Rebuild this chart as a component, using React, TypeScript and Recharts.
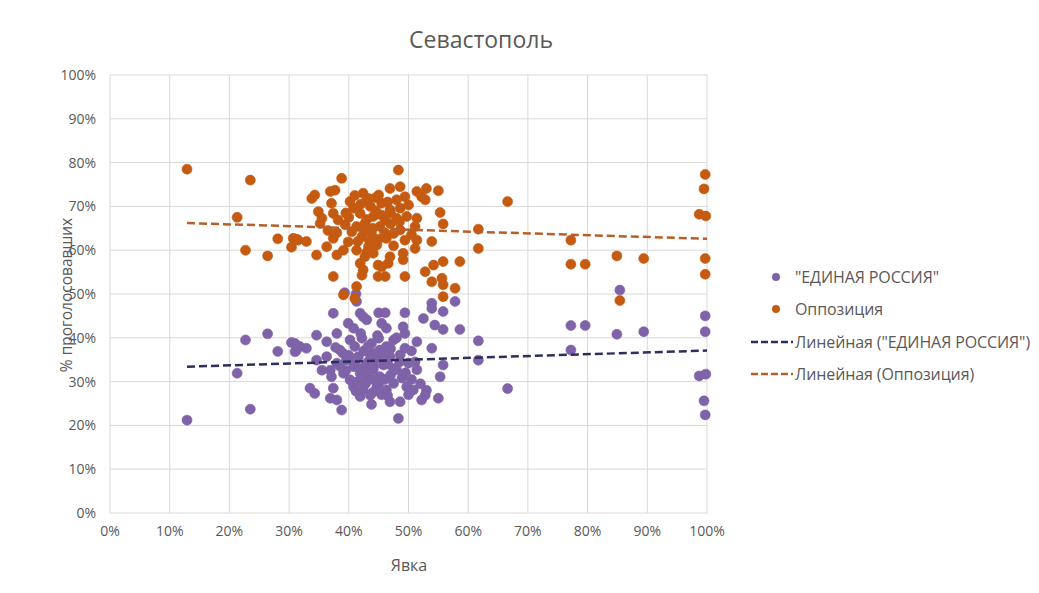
import React from "react";
import { ScatterChart, Scatter, XAxis, YAxis, CartesianGrid } from "recharts";

// [turnout %, vote share %]
const erPoints: number[][] = [
  [12.9, 21.2], [23.5, 23.7], [21.3, 31.9], [22.7, 39.5], [26.4, 40.9], [28.1, 36.9], [30.4, 38.9], [31.2, 37.1],
  [31.0, 38.7], [31.8, 38.0], [32.9, 37.6], [31.0, 36.8], [34.6, 40.6], [36.3, 39.1], [34.6, 34.9], [35.5, 32.6],
  [33.5, 28.5], [34.3, 27.3], [36.9, 26.2], [38.0, 25.8], [38.8, 23.5], [46.9, 25.4], [48.6, 25.4], [48.3, 21.6],
  [55.0, 26.2], [52.8, 26.9], [52.2, 25.8], [55.3, 31.1], [55.8, 33.8], [53.9, 37.6], [51.4, 39.1], [51.1, 34.5],
  [51.4, 32.7], [49.1, 42.5], [49.4, 41.0], [45.5, 43.3], [46.3, 42.2], [39.9, 43.3], [40.8, 42.2], [38.0, 41.0],
  [43.0, 44.1], [41.3, 48.3], [39.3, 50.3], [41.2, 50.0], [37.4, 45.6], [41.9, 45.6], [42.4, 44.8], [45.0, 45.7],
  [46.1, 45.7], [49.4, 45.7], [53.9, 47.9], [53.9, 46.7], [55.8, 46.0], [57.8, 48.3], [52.5, 44.4], [54.4, 42.9],
  [55.8, 41.9], [58.6, 41.9], [61.7, 39.3], [61.7, 34.9],
  [38.5, 37.2], [39.6, 34.9], [40.8, 33.4], [41.9, 31.9], [43.0, 30.4], [42.4, 28.1], [43.6, 26.9], [44.7, 28.8],
  [45.2, 31.1], [44.1, 32.7], [43.0, 34.2], [41.6, 35.7], [43.3, 36.8], [44.7, 35.3], [45.8, 33.8], [46.9, 35.7],
  [46.3, 38.0], [47.5, 39.5], [48.0, 32.7], [48.9, 30.8], [49.7, 28.8], [50.8, 28.1], [47.5, 29.6], [46.3, 28.1],
  [40.2, 30.4], [39.1, 31.9], [38.0, 34.2], [37.1, 31.1], [37.4, 28.5], [40.8, 28.8], [41.9, 26.6], [45.0, 39.9],
  [43.8, 38.7], [42.2, 39.9], [41.0, 38.0], [40.2, 39.5], [45.2, 37.2], [48.6, 36.1], [50.0, 34.2], [49.4, 37.6],
  [36.3, 35.7], [36.9, 32.6],
  [40.0, 36.0], [41.0, 34.5], [42.0, 33.0], [43.0, 32.0], [44.0, 30.5], [45.0, 29.5], [46.0, 30.5], [47.0, 31.5],
  [43.5, 35.0], [42.5, 37.0], [44.5, 36.5], [46.5, 34.0], [47.5, 33.0], [48.5, 34.5], [49.5, 32.0], [50.5, 30.5],
  [44.0, 27.5], [45.5, 27.0], [42.8, 29.5], [41.5, 30.0], [39.5, 32.5], [38.5, 33.5], [43.2, 38.0], [44.8, 40.5],
  [42.0, 41.0], [47.0, 37.5], [48.0, 40.0], [50.5, 37.0], [39.0, 36.5], [37.8, 37.8], [44.2, 33.5], [45.8, 36.0],
  [41.2, 27.8], [43.8, 24.8], [50.0, 27.0], [52.0, 29.5], [53.0, 28.0], [46.5, 26.8],
  [66.6, 28.4], [77.2, 42.8], [79.6, 42.8], [84.9, 40.8], [89.4, 41.4], [77.2, 37.2], [85.4, 50.9], [99.7, 45.0],
  [99.7, 41.4], [98.7, 31.3], [99.8, 31.7], [99.5, 25.6], [99.7, 22.4],
];

const oppPoints: number[][] = [
  [12.9, 78.5], [23.5, 76.0], [21.3, 67.5], [28.1, 62.6], [22.7, 60.0], [26.4, 58.7], [30.4, 60.7], [31.3, 62.5],
  [48.3, 78.3], [38.8, 76.4], [33.8, 71.8], [34.3, 72.6], [36.9, 73.4], [37.7, 73.7], [46.9, 74.1], [48.6, 74.5],
  [53.0, 74.1], [55.0, 73.6], [51.4, 73.4], [52.2, 72.2], [52.8, 71.5], [42.4, 73.0], [43.0, 71.5], [37.1, 70.7],
  [40.2, 71.1], [34.9, 68.8], [35.5, 67.3], [35.2, 66.1], [37.4, 68.4], [38.2, 66.9], [55.3, 68.6], [55.8, 66.0],
  [61.7, 64.8], [61.7, 60.4], [51.4, 67.3], [51.1, 65.4], [49.4, 72.2], [50.0, 70.3], [48.0, 71.5], [48.6, 69.6],
  [30.7, 62.7], [31.5, 62.3], [32.9, 62.0], [36.3, 60.8], [34.6, 58.9], [37.4, 62.7], [38.0, 58.9], [53.9, 62.0],
  [51.4, 62.3], [51.1, 60.4], [49.1, 59.3], [49.1, 57.8], [44.7, 61.2], [46.9, 58.5], [46.6, 57.0], [41.9, 57.0],
  [42.4, 55.5], [42.2, 54.3], [44.9, 56.6], [45.5, 56.2], [37.4, 54.0], [44.9, 54.0], [46.1, 54.0], [49.4, 54.0],
  [52.8, 55.1], [54.2, 56.6], [55.8, 57.4], [58.6, 57.4], [53.9, 52.8], [55.6, 53.6], [55.8, 52.1], [57.8, 51.3],
  [41.3, 51.7], [39.1, 49.8], [41.0, 49.0], [55.8, 49.4],
  [40.8, 69.6], [41.9, 68.4], [43.6, 70.0], [44.1, 67.7], [42.7, 66.1], [41.3, 65.4], [45.2, 65.4], [43.8, 63.8],
  [42.2, 63.1], [40.5, 64.2], [39.4, 65.8], [46.1, 66.9], [46.9, 69.2], [47.5, 63.8], [46.3, 62.7], [43.3, 60.8],
  [41.3, 60.0], [39.9, 61.9], [39.1, 60.0], [44.1, 59.3], [42.7, 58.5], [50.5, 63.5], [48.6, 64.6], [49.7, 67.7],
  [45.0, 72.6], [43.3, 71.8], [45.5, 70.7], [48.0, 67.3], [49.4, 62.3],
  [42.0, 70.5], [44.5, 69.0], [43.0, 67.0], [45.5, 68.0], [47.0, 66.0], [44.0, 65.0], [42.5, 64.5], [46.0, 64.0],
  [40.0, 67.5], [41.5, 62.0], [45.0, 62.5], [47.5, 61.0], [43.5, 62.0], [48.5, 66.5], [44.5, 72.0], [46.5, 71.0],
  [39.5, 68.5], [41.0, 72.5], [47.0, 68.5], [43.0, 59.5], [36.5, 64.5], [38.0, 64.0],
  [66.6, 71.1], [77.2, 62.3], [77.2, 56.8], [79.6, 56.8], [84.9, 58.7], [89.4, 58.1], [85.4, 48.5], [99.7, 77.3],
  [99.5, 74.0], [98.7, 68.2], [99.8, 67.8], [99.7, 58.1], [99.7, 54.5],
];

const erTrend: number[][] = [[12.9, 33.4], [100, 37.1]];
const oppTrend: number[][] = [[12.9, 66.2], [100, 62.6]];

const axisTicks = [0, 10, 20, 30, 40, 50, 60, 70, 80, 90, 100];

const seriesNames = ['"ЕДИНАЯ РОССИЯ"', "Оппозиция", 'Линейная ("ЕДИНАЯ РОССИЯ")', "Линейная (Оппозиция)"];

const ER_COLOR = "#7f63a8";
const OPP_COLOR = "#c55a11";
const ER_TREND = "#2d2f5c";
const OPP_TREND = "#b5602a";

const toData = (arr: number[][]) => arr.map(([x, y]) => ({ x, y }));

const FONT = "'Open Sans', 'Noto Sans', sans-serif";
const TEXT = "#595959";

const dot = (color: string) => (props: any) =>
  <circle cx={props.cx} cy={props.cy} r={5} fill={color} stroke={color} strokeOpacity={0.6} strokeWidth={1} />;
const noDot = () => <g />;

const LegendBox = () => {
  const rows = [
    { kind: "dot", color: ER_COLOR, label: seriesNames[0] },
    { kind: "dot", color: OPP_COLOR, label: seriesNames[1] },
    { kind: "line", color: ER_TREND, label: seriesNames[2] },
    { kind: "line", color: OPP_TREND, label: seriesNames[3] },
  ];
  return (
    <div style={{ position: "absolute", left: 742, top: 253, fontFamily: FONT, fontSize: 16, color: TEXT, letterSpacing: -0.1 }}>
      {rows.map((r, i) => (
        <div key={i} style={{ display: "flex", alignItems: "center", height: 32.3, whiteSpace: "nowrap" }}>
          <svg width={44} height={12} style={{ marginRight: 1, flexShrink: 0 }}>
            {r.kind === "dot" ? (
              <circle cx={26} cy={6} r={4} fill={r.color} />
            ) : (
              <line x1={1} y1={6} x2={43} y2={6} stroke={r.color} strokeWidth={2.5} strokeDasharray="7 3" />
            )}
          </svg>
          <span>{r.label}</span>
        </div>
      ))}
    </div>
  );
};

export default function App() {
  return (
    <div style={{ position: "relative", width: 1023, height: 577, fontFamily: FONT }}>
      <div style={{ position: "absolute", left: -5, top: -8, width: 1, height: 590, background: "#d9d9d9" }} />
      <div style={{ position: "absolute", left: 0, width: 946, top: 15, textAlign: "center", fontSize: 23, color: TEXT }}>
        Севастополь
      </div>
      <div
        style={{
          position: "absolute", left: 58, top: 287, transform: "translate(-50%, -50%) rotate(-90deg)",
          whiteSpace: "nowrap", fontSize: 15.5, color: TEXT,
        }}
      >
        % проголосовавших
      </div>
      <div style={{ position: "absolute", left: 401, top: 557, transform: "translate(-50%, -50%)", fontSize: 16, color: TEXT }}>
        Явка
      </div>
      <ScatterChart
        width={1023}
        height={577}
        margin={{ top: 67, right: 324, bottom: 42, left: 0 }}
        style={{ position: "absolute", left: 0, top: 0 }}
      >
        <CartesianGrid stroke="#d9d9d9" strokeWidth={1} />
        <XAxis
          type="number"
          dataKey="x"
          domain={[0, 100]}
          ticks={axisTicks}
          tickFormatter={(v: number) => `${v}%`}
          axisLine={false}
          tickLine={false}
          tickSize={0}
          tickMargin={13}
          height={30}
          tick={{ fill: TEXT, fontSize: 14, fontFamily: FONT }}
          interval={0}
        />
        <YAxis
          type="number"
          dataKey="y"
          domain={[0, 100]}
          ticks={axisTicks}
          tickFormatter={(v: number) => `${v}%`}
          axisLine={false}
          tickLine={false}
          tickSize={0}
          tickMargin={14}
          width={102}
          tick={{ fill: TEXT, fontSize: 14, fontFamily: FONT }}
          interval={0}
        />
        <Scatter name={seriesNames[0]} data={toData(erPoints)} shape={dot(ER_COLOR)} isAnimationActive={false} />
        <Scatter name={seriesNames[1]} data={toData(oppPoints)} shape={dot(OPP_COLOR)} isAnimationActive={false} />
        <Scatter
          name={seriesNames[2]}
          data={toData(erTrend)}
          line={{ stroke: ER_TREND, strokeWidth: 2.5, strokeDasharray: "8 4" }}
          shape={noDot}
          isAnimationActive={false}
        />
        <Scatter
          name={seriesNames[3]}
          data={toData(oppTrend)}
          line={{ stroke: OPP_TREND, strokeWidth: 2.5, strokeDasharray: "8 4" }}
          shape={noDot}
          isAnimationActive={false}
        />
      </ScatterChart>
      <LegendBox />
    </div>
  );
}
